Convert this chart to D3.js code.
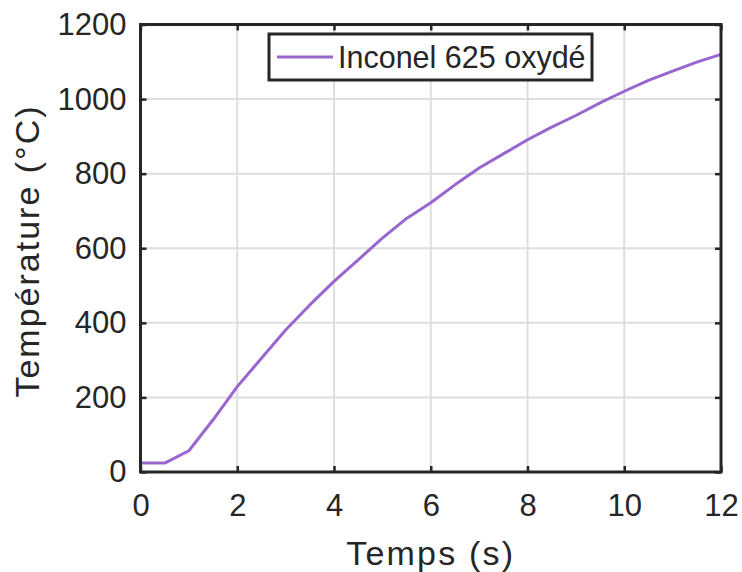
<!DOCTYPE html>
<html>
<head>
<meta charset="utf-8">
<script src="https://cdn.jsdelivr.net/npm/d3@7"></script>
<style>
  body { margin: 0; background: #fff; }
  text { font-family: "Liberation Sans", Arial, sans-serif; fill: #262626; }
</style>
</head>
<body>
<svg id="chart" width="742" height="572"></svg>
<script>
// data
var temps = [0, 0.5, 1, 1.5, 2, 2.5, 3, 3.5, 4, 4.5, 5, 5.5, 6, 6.5, 7, 7.5, 8, 8.5, 9, 9.5, 10, 10.5, 11, 11.5, 12];
var temperature = [24, 24, 57, 140, 229, 305, 381, 448, 511, 569, 627, 680, 722, 770, 815, 853, 891, 925, 956, 990, 1021, 1050, 1075, 1099, 1120];
var xTicks = [0, 2, 4, 6, 8, 10, 12];
var yTicks = [0, 200, 400, 600, 800, 1000, 1200];
var seriesName = "Inconel 625 oxydé";

var margins = {};
margins.left = 140.5;
margins.right = 21;
margins.top = 24.5;
margins.bottom = 100;

var width = 742, height = 572;
var svg = d3.select("#chart");

var x = d3.scaleLinear().domain([0, 12]).range([margins.left, width - margins.right]);
var y = d3.scaleLinear().domain([0, 1200]).range([height - margins.bottom, margins.top]);

var ink = "#262626";

// grid
var grid = svg.append("g");
grid.selectAll(".gx").data(xTicks.slice(1, -1)).enter().append("line")
    .attr("x1", d => x(d)).attr("x2", d => x(d))
    .attr("y1", y(0)).attr("y2", y(1200))
    .attr("stroke", "#dedede").attr("stroke-width", 2);
grid.selectAll(".gy").data(yTicks.slice(1, -1)).enter().append("line")
    .attr("y1", d => y(d)).attr("y2", d => y(d))
    .attr("x1", x(0)).attr("x2", x(12))
    .attr("stroke", "#dedede").attr("stroke-width", 2);

// line
var line = d3.line().x((d, i) => x(temps[i])).y(d => y(d));
svg.append("path")
    .datum(temperature)
    .attr("d", line)
    .attr("fill", "none")
    .attr("stroke", "#9966cf")
    .attr("stroke-width", 3)
    .attr("stroke-linejoin", "round");

// axes with inner ticks
var xb = d3.axisBottom(x).tickValues(xTicks).tickSizeInner(-6).tickSizeOuter(0).tickPadding(22).tickFormat(d3.format("d"));
var xt = d3.axisTop(x).tickValues(xTicks).tickSizeInner(-6).tickSizeOuter(0).tickFormat("");
var yl = d3.axisLeft(y).tickValues(yTicks).tickSizeInner(-6).tickSizeOuter(0).tickPadding(14).tickFormat(d3.format("d"));
var yr = d3.axisRight(y).tickValues(yTicks).tickSizeInner(-6).tickSizeOuter(0).tickFormat("");

function style(g) {
    g.select(".domain").remove();
    g.selectAll(".tick line").attr("stroke", ink).attr("stroke-width", 2.5);
    g.selectAll(".tick text").attr("font-size", 31).attr("fill", ink)
        .style("font-family", "'Liberation Sans', Arial, sans-serif");
}
svg.append("g").attr("transform", "translate(0," + y(0) + ")").call(xb).call(style);
svg.append("g").attr("transform", "translate(0," + y(1200) + ")").call(xt).call(style);
svg.append("g").attr("transform", "translate(" + x(0) + ",0)").call(yl).call(style);
svg.append("g").attr("transform", "translate(" + x(12) + ",0)").call(yr).call(style);

// frame
svg.append("rect")
    .attr("x", x(0)).attr("y", y(1200))
    .attr("width", x(12) - x(0)).attr("height", y(0) - y(1200))
    .attr("fill", "none").attr("stroke", ink).attr("stroke-width", 3);

// axis labels
svg.append("text")
    .attr("x", (x(0) + x(12)) / 2).attr("y", 565)
    .attr("text-anchor", "middle").attr("font-size", 34)
    .attr("letter-spacing", 2.2)
    .text("Temps (s)");
svg.append("text")
    .attr("transform", "translate(39,251) rotate(-90)")
    .attr("text-anchor", "middle").attr("font-size", 34)
    .attr("letter-spacing", 2)
    .text("Température (°C)");

// legend
var leg = svg.append("g");
leg.append("rect")
    .attr("x", 269).attr("y", 34).attr("width", 323).attr("height", 46)
    .attr("fill", "#fff").attr("stroke", ink).attr("stroke-width", 3);
leg.append("line")
    .attr("x1", 277).attr("x2", 333).attr("y1", 57).attr("y2", 57)
    .attr("stroke", "#9966cf").attr("stroke-width", 3);
leg.append("text")
    .attr("x", 338).attr("y", 68).attr("font-size", 30.5)
    .text(seriesName);
</script>
</body>
</html>
